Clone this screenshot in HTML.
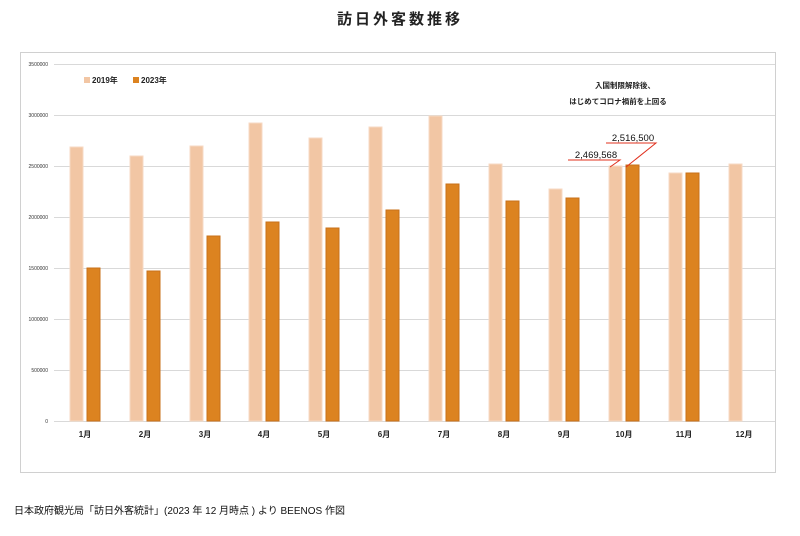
<!DOCTYPE html>
<html><head><meta charset="utf-8"><style>
body{margin:0;background:#fff;width:800px;height:531px;overflow:hidden;font-family:"Liberation Sans","Noto Sans CJK JP",sans-serif}
</style></head><body>
<svg width="800" height="531" xmlns="http://www.w3.org/2000/svg" font-family="Liberation Sans, Noto Sans CJK JP, sans-serif">
<text x="400" y="24" text-anchor="middle" font-size="15" font-weight="bold" letter-spacing="3" fill="#222">訪日外客数推移</text>
<rect x="20.5" y="52.5" width="755" height="420" fill="none" stroke="#d0d0d0"/>
<g stroke="#d9d9d9" stroke-width="1">
<line x1="54" x2="775" y1="64.5" y2="64.5"/><line x1="54" x2="775" y1="115.5" y2="115.5"/>
<line x1="54" x2="775" y1="166.5" y2="166.5"/><line x1="54" x2="775" y1="217.5" y2="217.5"/>
<line x1="54" x2="775" y1="268.5" y2="268.5"/><line x1="54" x2="775" y1="319.5" y2="319.5"/>
<line x1="54" x2="775" y1="370.5" y2="370.5"/><line x1="54" x2="775" y1="421.5" y2="421.5"/>
</g>
<g font-size="5" fill="#333" text-anchor="end">
<text x="48" y="66">3500000</text><text x="48" y="117">3000000</text><text x="48" y="168">2500000</text>
<text x="48" y="219">2000000</text><text x="48" y="270">1500000</text><text x="48" y="321">1000000</text>
<text x="48" y="372">500000</text><text x="48" y="423">0</text>
</g>
<g fill="#f2c6a4" stroke="#f7dac4">
<rect x="70" y="147" width="13" height="274"/><rect x="130" y="156" width="13" height="265"/>
<rect x="190" y="146" width="13" height="275"/><rect x="249" y="123" width="13" height="298"/>
<rect x="309" y="138" width="13" height="283"/><rect x="369" y="127" width="13" height="294"/>
<rect x="429" y="116" width="13" height="305"/><rect x="489" y="164" width="13" height="257"/>
<rect x="549" y="189" width="13" height="232"/><rect x="609" y="166" width="13" height="255"/>
<rect x="669" y="173" width="13" height="248"/><rect x="729" y="164" width="13" height="257"/>
</g>
<g fill="#dc8320" stroke="#c8701a">
<rect x="87" y="268" width="13" height="153"/><rect x="147" y="271" width="13" height="150"/>
<rect x="207" y="236" width="13" height="185"/><rect x="266" y="222" width="13" height="199"/>
<rect x="326" y="228" width="13" height="193"/><rect x="386" y="210" width="13" height="211"/>
<rect x="446" y="184" width="13" height="237"/><rect x="506" y="201" width="13" height="220"/>
<rect x="566" y="198" width="13" height="223"/><rect x="626" y="165" width="13" height="256"/>
<rect x="686" y="173" width="13" height="248"/>
</g>
<g font-size="8" fill="#222" text-anchor="middle" font-weight="bold">
<text x="85" y="437">1月</text><text x="145" y="437">2月</text><text x="205" y="437">3月</text>
<text x="264" y="437">4月</text><text x="324" y="437">5月</text><text x="384" y="437">6月</text>
<text x="444" y="437">7月</text><text x="504" y="437">8月</text><text x="564" y="437">9月</text>
<text x="624" y="437">10月</text><text x="684" y="437">11月</text><text x="744" y="437">12月</text>
</g>
<rect x="84" y="77" width="6" height="6" fill="#f2c6a4"/><text x="92" y="83" font-size="8" font-weight="bold" fill="#222">2019年</text>
<rect x="133" y="77" width="6" height="6" fill="#dc8320"/><text x="141" y="83" font-size="8" font-weight="bold" fill="#222">2023年</text>
<text x="625" y="88" font-size="7.5" font-weight="bold" fill="#222" text-anchor="middle">入国制限解除後、</text>
<text x="618" y="104" font-size="7.5" font-weight="bold" fill="#222" text-anchor="middle">はじめてコロナ禍前を上回る</text>
<text x="633" y="141" font-size="9.5" fill="#111" text-anchor="middle">2,516,500</text>
<text x="596" y="158" font-size="9.5" fill="#111" text-anchor="middle">2,469,568</text>
<g stroke="#e0301e" stroke-width="1" fill="none">
<polyline points="606,143 656,143 626,167"/>
<polyline points="568,160 620,160 610,167"/>
</g>
<text x="14" y="514" font-size="10" fill="#111">日本政府観光局「訪日外客統計」(2023 年 12 月時点 ) より BEENOS 作図</text>
</svg>
</body></html>
